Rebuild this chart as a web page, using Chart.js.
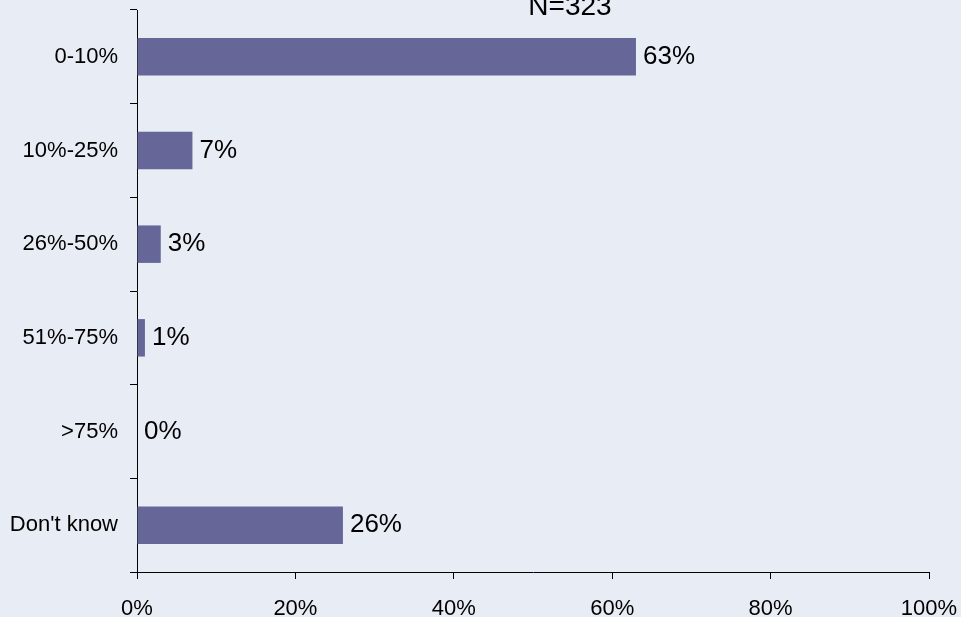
<!DOCTYPE html>
<html>
<head>
<meta charset="utf-8">
<script src="https://cdn.jsdelivr.net/npm/chart.js@4"></script>
<style>
  html, body { margin: 0; padding: 0; background: #E8ECF4; }
  #wrap { width: 961px; height: 617px; }
</style>
</head>
<body>
<div id="wrap"><canvas id="myChart1" width="961" height="617"></canvas></div>
<script>
const categorias = ['0-10%', '10%-25%', '26%-50%', '51%-75%', '>75%', "Don't know"];
const valores = [63, 7, 3, 1, 0, 26];
const ticksX = [0, 20, 40, 60, 80, 100];
const titulo = 'N=323';

const ctx = document.getElementById('myChart1');

// etiquetas de valor + titulo
const etiquetas = {
  id: 'etiquetas',
  afterDatasetsDraw(chart) {
    const c = chart.ctx;
    c.save();
    c.fillStyle = '#000';
    c.font = '26px "Liberation Sans", Arial, sans-serif';
    c.textAlign = 'left';
    c.textBaseline = 'middle';
    chart.getDatasetMeta(0).data.forEach((bar, i) => {
      c.fillText(valores[i] + '%', bar.x + 7, bar.y);
    });
    c.font = '28px "Liberation Sans", Arial, sans-serif';
    c.textAlign = 'center';
    c.textBaseline = 'alphabetic';
    c.fillText(titulo, 570, 15);
    c.restore();
  }
};

new Chart(ctx, {
  type: 'bar',
  data: {
    labels: categorias,
    datasets: [{
      data: valores,
      backgroundColor: '#666699',
      borderWidth: 0,
      barPercentage: 0.4,
      categoryPercentage: 1
    }]
  },
  options: {
    indexAxis: 'y',
    responsive: false,
    animation: false,
    layout: { padding: { left: 0, right: 32, top: 10, bottom: 0 } },
    plugins: {
      legend: { display: false },
      tooltip: { enabled: false }
    },
    scales: {
      x: {
        min: 0,
        max: 100,
        afterBuildTicks: (s) => { s.ticks = ticksX.map(v => ({ value: v })); },
        afterFit: (s) => { s.height = 45; s.paddingLeft = 0; s.paddingRight = 0; },
        grid: { drawOnChartArea: false, drawTicks: true, tickLength: 7, color: '#000' },
        border: { display: true, color: '#000', width: 1 },
        ticks: {
          color: '#000',
          padding: 17,
          maxRotation: 0,
          font: { family: '"Liberation Sans", Arial, sans-serif', size: 22 },
          callback: (v) => v + '%'
        }
      },
      y: {
        afterFit: (s) => { s.width = 137; s.paddingTop = 0; s.paddingBottom = 0; },
        grid: { drawOnChartArea: false, drawTicks: true, tickLength: 7, color: '#000', offset: true },
        border: { display: true, color: '#000', width: 1 },
        ticks: {
          color: '#000',
          padding: 12,
          font: { family: '"Liberation Sans", Arial, sans-serif', size: 22 }
        }
      }
    }
  },
  plugins: [etiquetas]
});
</script>
</body>
</html>
